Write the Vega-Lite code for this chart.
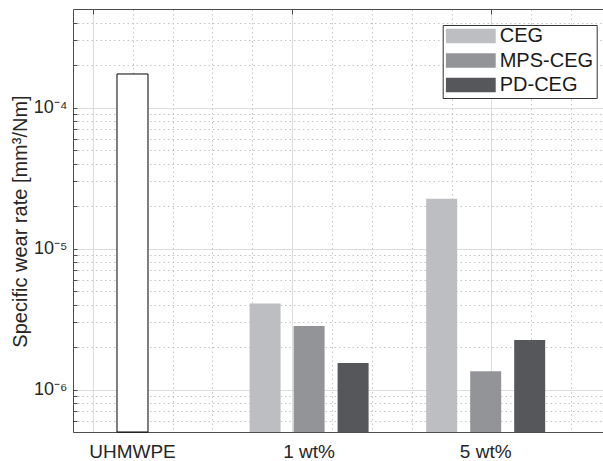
{
  "$schema": "https://vega.github.io/schema/vega-lite/v6.json",
  "width": 530,
  "height": 423,
  "autosize": {"type": "none"},
  "padding": {"left": 73, "top": 9, "right": 0, "bottom": 29},
  "background": "white",
  "config": {"view": {"stroke": null}, "font": "Liberation Sans", "legend": {"labelFontSize": 20, "labelLimit": 300}},
  "data": {
    "values": [
      {"group": "UHMWPE", "material": "UHMWPE", "rate": 0.000173},
      {"group": "1 wt%", "material": "CEG", "rate": 0.00000408},
      {"group": "1 wt%", "material": "MPS-CEG", "rate": 0.00000282},
      {"group": "1 wt%", "material": "PD-CEG", "rate": 0.00000154},
      {"group": "5 wt%", "material": "CEG", "rate": 0.0000226},
      {"group": "5 wt%", "material": "MPS-CEG", "rate": 0.00000135},
      {"group": "5 wt%", "material": "PD-CEG", "rate": 0.00000225}
    ]
  },
  "layer": [
    {
      "mark": {"type": "rule", "opacity": 0},
      "encoding": {
        "x": {
          "datum": 0,
          "type": "quantitative",
          "scale": {"domain": [-0.5, 12.8], "nice": false, "zero": false},
          "axis": {
            "orient": "top",
            "values": [0, 1, 2, 3, 4, 5, 6, 7, 8, 9, 10, 11, 12],
            "labels": false,
            "title": null,
            "domain": true,
            "domainColor": "#4d4d4d",
            "domainWidth": 1,
            "ticks": true,
            "tickSize": -5,
            "tickColor": "#4d4d4d",
            "tickOpacity": {"condition": {"test": "datum.value % 5 === 0", "value": 1}, "value": 0},
            "grid": true,
            "gridColor": {"condition": {"test": "datum.value % 5 === 0", "value": "#dcdcdc"}, "value": "#c4c4c4"},
            "gridDash": {"condition": {"test": "datum.value % 5 === 0", "value": []}, "value": [1.5, 3]},
            "gridWidth": 1
          }
        }
      }
    },
    {
      "transform": [{"filter": "datum.group === 'UHMWPE'"}],
      "mark": {"type": "bar", "width": 31, "fill": "white", "stroke": "black", "strokeWidth": 1},
      "encoding": {
        "x": {
          "field": "group",
          "type": "nominal",
          "scale": {"domain": ["UHMWPE", "1 wt%", "5 wt%"], "paddingInner": 0.3262, "paddingOuter": 0.1637, "align": 0},
          "axis": null
        },
        "y": {
          "field": "rate",
          "type": "quantitative",
          "scale": {"type": "log", "domain": [5e-7, 5e-4], "nice": false}
        },
        "y2": {"datum": 5e-7}
      }
    },
    {
      "transform": [{"filter": "datum.group !== 'UHMWPE'"}],
      "mark": {"type": "bar"},
      "encoding": {
        "x": {
          "field": "group",
          "type": "nominal",
          "scale": {"domain": ["UHMWPE", "1 wt%", "5 wt%"], "paddingInner": 0.3262, "paddingOuter": 0.1637, "align": 0},
          "axis": {
            "orient": "bottom",
            "title": null,
            "labelAngle": 0,
            "labelFontSize": 19,
            "labelColor": "#262626",
            "labelPadding": 15,
            "labelFlush": false,
            "labelOverlap": false,
            "domain": true,
            "domainColor": "#4d4d4d",
            "domainWidth": 1,
            "ticks": true,
            "tickSize": -5,
            "tickColor": "#4d4d4d",
            "grid": false
          }
        },
        "xOffset": {
          "field": "material",
          "type": "nominal",
          "scale": {"domain": ["CEG", "MPS-CEG", "PD-CEG"], "paddingInner": 0.2955, "paddingOuter": 0}
        },
        "y": {
          "field": "rate",
          "type": "quantitative",
          "scale": {"type": "log", "domain": [5e-7, 5e-4], "nice": false},
          "axis": {
            "title": "Specific wear rate [mm³/Nm]",
            "titleFontSize": 20,
            "titleFontWeight": "normal",
            "titleColor": "#262626",
            "titleAngle": -90,
            "titleX": -47,
            "titleY": 212,
            "titleAlign": "center",
            "titleBaseline": "alphabetic",
            "values": [6e-7, 7e-7, 8e-7, 9e-7, 1e-6, 2e-6, 3e-6, 4e-6, 5e-6, 6e-6, 7e-6, 8e-6, 9e-6, 1e-5, 2e-5, 3e-5, 4e-5, 5e-5, 6e-5, 7e-5, 8e-5, 9e-5, 1e-4, 2e-4, 3e-4, 4e-4],
            "labelExpr": "abs(log(datum.value)/LN10 - round(log(datum.value)/LN10)) < 0.000001 ? (round(log(datum.value)/LN10) == -4 ? '10⁻⁴' : round(log(datum.value)/LN10) == -5 ? '10⁻⁵' : '10⁻⁶') : ''",
            "labelFontSize": 18,
            "labelColor": "#262626",
            "labelPadding": 10,
            "labelFlush": false,
            "labelOverlap": false,
            "domain": true,
            "domainColor": "#4d4d4d",
            "domainWidth": 1,
            "ticks": true,
            "tickSize": -4,
            "tickColor": "#4d4d4d",
            "grid": true,
            "gridColor": {"condition": {"test": "abs(log(datum.value)/LN10 - round(log(datum.value)/LN10)) < 0.000001", "value": "#dcdcdc"}, "value": "#c4c4c4"},
            "gridDash": {"condition": {"test": "abs(log(datum.value)/LN10 - round(log(datum.value)/LN10)) < 0.000001", "value": []}, "value": [1.5, 3]},
            "gridWidth": 1
          }
        },
        "y2": {"datum": 5e-7},
        "color": {
          "field": "material",
          "type": "nominal",
          "scale": {"domain": ["CEG", "MPS-CEG", "PD-CEG"], "range": ["#bdbec2", "#939498", "#56575b"]},
          "legend": {
            "title": null,
            "orient": "none",
            "legendX": 369.7,
            "legendY": 16,
            "direction": "vertical",
            "symbolType": "M-1,-0.29L1,-0.29L1,0.29L-1,0.29Z",
            "symbolSize": 2500,
            "symbolStrokeWidth": 0,
            "symbolOpacity": 1,
            "labelFontSize": 20,
            "labelColor": "#1a1a1a",
            "labelOffset": 4,
            "labelLimit": 300,
            "padding": 3,
            "strokeColor": "#333333",
            "fillColor": "white",
            "clipHeight": 16,
            "rowPadding": 4.5
          }
        }
      }
    }
  ],
  "resolve": {"scale": {"x": "independent"}, "axis": {"x": "independent"}}
}
